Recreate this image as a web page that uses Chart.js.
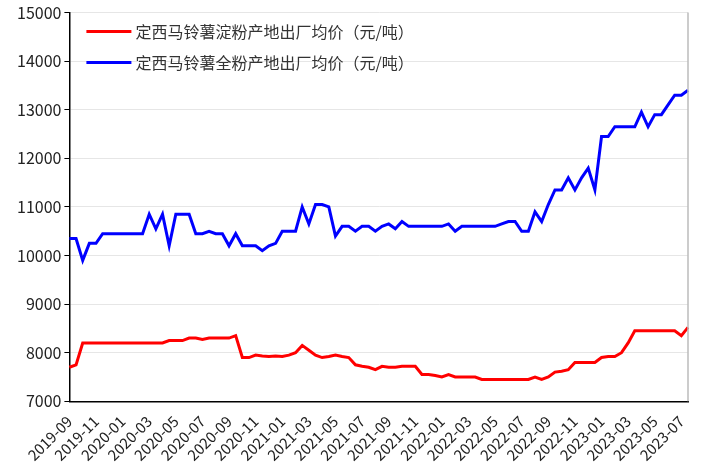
<!DOCTYPE html>
<html>
<head>
<meta charset="utf-8">
<script src="https://cdn.jsdelivr.net/npm/chart.js@4/dist/chart.umd.min.js"></script>
<style>
  body { margin: 0; background: #fff; }
  #wrap { width: 713px; height: 473px; }
</style>
</head>
<body>
<div id="wrap"><canvas id="c"></canvas></div>
<script>
// half-month points from 2019-09 to 2023-07
const startYear = 2019, startMonth = 9;
const starchPrice = [
  7700, 7750, 8200, 8200, 8200, 8200, 8200, 8200, 8200, 8200, 8200, 8200, 8200, 8200, 8200,
  8250, 8250, 8250, 8300, 8300, 8270, 8300, 8300, 8300, 8300, 8350, 7900, 7900, 7950, 7930,
  7920, 7930, 7920, 7950, 8000, 8150, 8050, 7950, 7900, 7920, 7950, 7920, 7900, 7750, 7720,
  7700, 7650, 7720, 7700, 7700, 7720, 7720, 7720, 7550, 7550, 7530, 7500, 7550, 7500, 7500,
  7500, 7500, 7450, 7450, 7450, 7450, 7450, 7450, 7450, 7450, 7500, 7450, 7500, 7600, 7620,
  7650, 7800, 7800, 7800, 7800, 7900, 7920, 7920, 8000, 8200, 8450, 8450, 8450, 8450, 8450,
  8450, 8450, 8350, 8520
];
const wholePrice = [
  10350, 10350, 9900, 10250, 10250, 10450, 10450, 10450, 10450, 10450, 10450, 10450, 10850, 10550, 10850,
  10200, 10850, 10850, 10850, 10450, 10450, 10500, 10450, 10450, 10200, 10450, 10200, 10200, 10200, 10100,
  10200, 10250, 10500, 10500, 10500, 11000, 10650, 11050, 11050, 11000, 10400, 10600, 10600, 10500, 10600,
  10600, 10500, 10600, 10650, 10550, 10700, 10600, 10600, 10600, 10600, 10600, 10600, 10650, 10500, 10600,
  10600, 10600, 10600, 10600, 10600, 10650, 10700, 10700, 10500, 10500, 10900, 10700, 11050, 11350, 11350,
  11600, 11350, 11600, 11800, 11350, 12450, 12450, 12650, 12650, 12650, 12650, 12950, 12650, 12900, 12900,
  13100, 13300, 13300, 13400
];
const seriesNames = ['定西马铃薯淀粉产地出厂均价（元/吨）', '定西马铃薯全粉产地出厂均价（元/吨）'];

const labels = starchPrice.map((v, i) => {
  const m = startMonth - 1 + Math.floor(i / 2);
  const y = startYear + Math.floor(m / 12);
  return y + '-' + String(m % 12 + 1).padStart(2, '0');
});

const font = "'Noto Sans CJK SC', 'Liberation Sans', sans-serif";

// legend drawn inside the plot, top left
const innerLegend = {
  id: 'innerLegend',
  afterDraw(chart) {
    const ctx = chart.ctx, area = chart.chartArea;
    ctx.save();
    ctx.font = '16px ' + font;
    ctx.textBaseline = 'middle';
    chart.data.datasets.forEach((ds, i) => {
      const y = area.top + 19 + i * 31;
      ctx.strokeStyle = ds.borderColor;
      ctx.lineWidth = 3;
      ctx.beginPath();
      ctx.moveTo(area.left + 17, y);
      ctx.lineTo(area.left + 62, y);
      ctx.stroke();
      ctx.fillStyle = '#333';
      ctx.fillText(ds.label, area.left + 66, y);
    });
    ctx.restore();
  }
};

new Chart(document.getElementById('c'), {
  type: 'line',
  data: {
    labels: labels,
    datasets: [
      { label: seriesNames[0], data: starchPrice, borderColor: '#ff0000', borderWidth: 3, pointRadius: 0, tension: 0 },
      { label: seriesNames[1], data: wholePrice, borderColor: '#0000ff', borderWidth: 3, pointRadius: 0, tension: 0 }
    ]
  },
  options: {
    responsive: true,
    maintainAspectRatio: false,
    animation: false,
    layout: { padding: { top: 6, right: 25, left: 14, bottom: 6 } },
    plugins: { legend: { display: false }, tooltip: { enabled: false } },
    scales: {
      x: {
        offset: false,
        grid: { display: false },
        border: { color: '#000', width: 1.5 },
        ticks: {
          autoSkip: false,
          maxRotation: 45, minRotation: 45,
          color: '#222',
          font: { family: font, size: 15 },
          callback: function(v, i) { return i % 4 === 0 ? labels[i] : null; }
        }
      },
      y: {
        min: 7000, max: 15000,
        grid: { color: '#e6e6e6', drawTicks: true, tickLength: 5, tickColor: '#000' },
        border: { color: '#000', width: 1.5 },
        ticks: { stepSize: 1000, color: '#222', font: { family: font, size: 16 },
          callback: v => String(v) }
      }
    }
  },
  plugins: [innerLegend, {
    id: 'rightEdge',
    afterDraw(chart) {
      const a = chart.chartArea, ctx = chart.ctx;
      ctx.save();
      ctx.strokeStyle = '#bbb';
      ctx.lineWidth = 1.5;
      ctx.beginPath();
      ctx.moveTo(a.right, a.top); ctx.lineTo(a.right, a.bottom);
      ctx.stroke();
      ctx.restore();
    }
  }]
});
</script>
</body>
</html>
